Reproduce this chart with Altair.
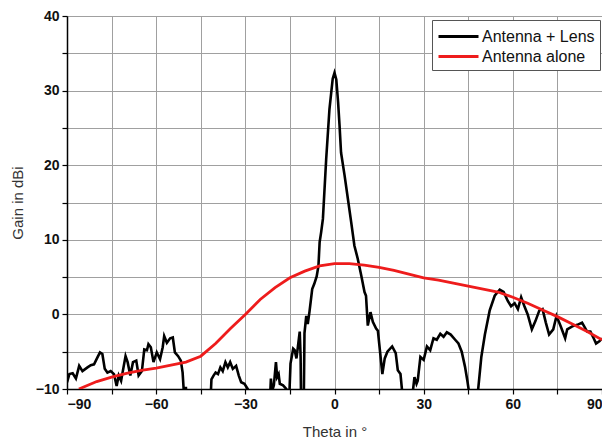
import altair as alt
import pandas as pd

# Antenna + Lens (black) — values below -10 are clipped by the axis
lens_theta = [-90, -89.2, -88.1, -87.0, -85.9, -84.8, -83.1, -82.0, -80.9, -79.8, -78.9, -78.1,
              -77.3, -76.4, -75.3, -74.2, -73.3, -72.6, -71.8, -70.9, -70.3, -69.6, -68.7, -67.8,
              -66.7, -65.9, -64.8, -64.0, -63.1, -62.6, -61.8, -60.9, -59.8, -58.7, -57.8, -57.3,
              -56.4, -55.3, -54.4, -53.7, -52.6, -51.7, -51.1, -50.6, -50.0, -49.5,
              -42.0, -41.4, -40.7, -40.0, -39.2, -38.4, -37.6, -36.7, -35.9, -35.1, -34.2, -33.1,
              -32.2, -31.4, -30.3, -29.2, -28.5,
              -22.0, -21.4, -21.0, -20.4, -19.7, -19.3, -18.8, -18.4, -17.3, -16.2, -15.5,
              -14.8, -13.9, -13.4, -12.8, -12.3, -11.7, -11.4, -11.2, -10.4, -10.1, -9.5, -9.0,
              -8.4, -7.5, -6.8, -6.0, -5.4, -5.0, -4.5, -3.9, -2.8, -1.7, -0.6, 0.0, 0.6, 1.2,
              1.7, 2.2, 3.4, 4.5, 5.6, 6.7, 7.8, 9.0, 10.1, 10.6, 11.2, 12.1, 12.9, 14.0, 14.6,
              16.1, 16.9, 17.8, 19.4, 20.6, 21.3, 22.2, 22.8, 23.3,
              26.0, 26.4, 26.9, 27.6, 28.0, 28.9, 30.0, 31.1, 32.2, 33.3, 34.4, 35.6, 36.7,
              37.8, 39.1, 40.6, 41.7, 42.8, 43.9, 44.7, 45.3, 45.8,
              47.8, 48.3, 49.4, 50.6, 52.2, 53.9, 55.6, 56.9, 58.3, 59.4, 60.6, 61.7, 62.8,
              63.9, 65.0, 66.4, 67.6, 68.9, 70.0, 71.1, 72.2, 73.6, 74.7, 76.1, 77.6, 78.3,
              80.0, 81.7, 83.3, 85.0, 86.1, 87.2, 88.0, 89.1, 90.0]
lens_gain = [-9.1, -8.0, -7.9, -8.6, -6.9, -7.6, -7.1, -6.8, -6.7, -5.8, -5.1, -5.3,
             -7.3, -7.8, -7.6, -8.0, -9.6, -8.2, -8.9, -6.9, -5.6, -6.4, -8.2, -6.4,
             -6.2, -8.2, -7.6, -4.7, -4.8, -4.0, -4.4, -6.4, -5.1, -6.0, -4.4, -2.9,
             -3.8, -3.2, -3.1, -5.1, -5.6, -6.2, -7.8, -11.0, -9.7, -14.0,
             -14.0, -8.7, -8.2, -7.8, -8.0, -7.1, -7.6, -6.4, -7.1, -6.4, -7.3, -6.9,
             -8.2, -9.1, -9.3, -10.0, -14.0,
             -14.0, -8.6, -10.3, -9.5, -6.4, -8.4, -8.0, -9.3, -9.5, -10.0, -14.0,
             -6.6, -4.6, -4.8, -5.9, -4.3, -2.3, -5.7, -14.0, -14.0, -2.5, -0.2, -1.3,
             0.4, 3.4, 4.1, 5.1, 6.5, 9.7, 11.0, 12.8, 20.8, 27.5, 31.6, 32.4, 31.5, 28.5,
             25.3, 21.7, 18.6, 15.5, 12.4, 9.2, 7.5, 5.2, 3.0, 2.5, -1.5, 0.3, -1.0, -1.9, -2.2,
             -8.0, -5.9, -5.0, -4.3, -5.2, -7.5, -8.0, -10.5, -14.0,
             -14.0, -10.2, -8.4, -9.3, -8.9, -5.7, -6.1, -4.3, -4.8, -3.2, -3.4, -2.6, -3.0,
             -2.4, -2.7, -3.4, -3.9, -5.0, -7.0, -8.9, -10.5, -14.0,
             -14.0, -10.2, -5.7, -2.7, 0.5, 2.5, 3.3, 3.0, 1.8, 1.1, 1.5, 0.7, 2.3,
             1.1, 0.0, -2.0, -0.9, 0.5, 0.7, -1.1, -2.7, -2.0, -0.2, -1.6, -3.2, -2.0,
             -1.6, -1.4, -1.1, -2.3, -2.3, -3.2, -3.9, -3.6, -3.2]

# Antenna alone (red)
alone_theta = [-86, -80, -75, -70, -65, -60, -55, -50, -45, -40, -35, -30, -25, -20, -15, -10,
               -5, 0, 5, 10, 15, 20, 25, 30, 35, 40, 45, 50, 55, 60, 65, 70, 75, 80, 85, 90]
alone_gain = [-10.0, -9.0, -8.4, -7.9, -7.5, -7.2, -6.8, -6.4, -5.6, -3.9, -1.9, 0.0, 2.0, 3.6,
              4.9, 5.8, 6.5, 6.8, 6.8, 6.6, 6.3, 5.9, 5.4, 4.9, 4.6, 4.2, 3.8, 3.4, 3.0, 2.3,
              1.5, 0.6, -0.3, -1.3, -2.3, -3.4]

series_names = ["Antenna + Lens", "Antenna alone"]
series_colors = ["#000000", "#ee1c1c"]

x_ticks = list(range(-90, 91, 15))
y_ticks = list(range(-10, 41, 5))

df_lens = pd.DataFrame({"theta": lens_theta, "gain": lens_gain, "series": series_names[0]})
df_alone = pd.DataFrame({"theta": alone_theta, "gain": alone_gain, "series": series_names[1]})

FONT = "Liberation Sans"

x_enc = alt.X("theta:Q",
              scale=alt.Scale(domain=[-90, 90], nice=False, zero=False),
              axis=alt.Axis(values=x_ticks,
                            labelExpr="datum.value % 30 == 0 ? datum.label : ''",
                            title="Theta in °", titlePadding=13))
y_enc = alt.Y("gain:Q",
              scale=alt.Scale(domain=[-10, 40], nice=False, zero=False),
              axis=alt.Axis(values=y_ticks,
                            labelExpr="datum.value % 10 == 0 ? datum.label : ''",
                            title="Gain in dBi", titlePadding=10))
color_enc = alt.Color("series:N",
                      scale=alt.Scale(domain=series_names, range=series_colors),
                      legend=alt.Legend(title=None, orient="none", legendX=365, legendY=4))

lens = alt.Chart(df_lens).mark_line(clip=True, strokeWidth=2.6).encode(
    x=x_enc, y=y_enc, color=color_enc)
alone = alt.Chart(df_alone).mark_line(clip=True, strokeWidth=2.8).encode(
    x=x_enc, y=y_enc, color=color_enc)

chart = (lens + alone).properties(
    width=535, height=373,
    padding={"left": 59, "top": 8, "right": 0, "bottom": 54},
    autosize=alt.AutoSizeParams(type="none"),
).configure_view(
    stroke="#a0a0a0", strokeWidth=1
).configure_axis(
    grid=True, gridColor="#a0a0a0", gridWidth=1, gridOpacity=1,
    domainColor="#000000", domainWidth=1.5,
    tickColor="#000000", tickSize=5, tickWidth=1.2,
    labelFont=FONT, labelFontSize=14, labelFontWeight="bold", labelColor="#111111",
    labelPadding=3,
    titleFont=FONT, titleFontSize=15, titleFontWeight="normal", titleColor="#333333",
).configure_legend(
    symbolType="M-1,0H3", symbolSize=400, symbolStrokeWidth=3,
    labelFont=FONT, labelFontSize=16, labelColor="#111111", labelOffset=22,
    padding=5, rowPadding=0, strokeColor="#555555", fillColor="#ffffff",
    cornerRadius=0, labelLimit=300,
)

chart.save("out.html", embed_options={"renderer": "svg", "actions": False})
